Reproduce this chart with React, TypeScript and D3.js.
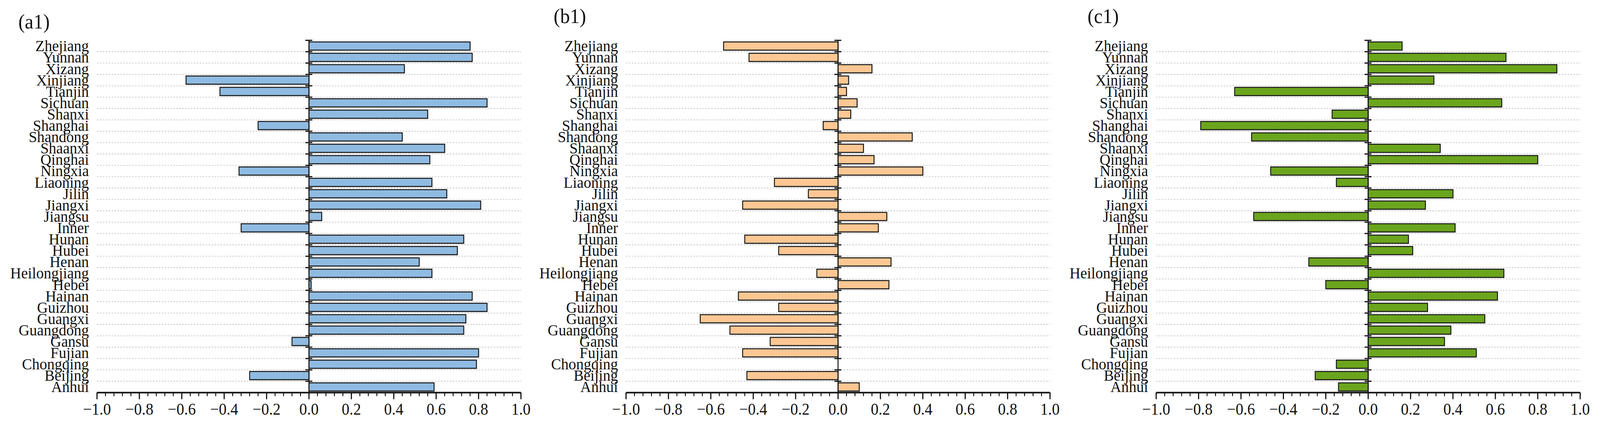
import * as d3 from "d3";

const provinces = [
  "Zhejiang", "Yunnan", "Xizang", "Xinjiang", "Tianjin", "Sichuan", "Shanxi", "Shanghai",
  "Shandong", "Shaanxi", "Qinghai", "Ningxia", "Liaoning", "Jilin", "Jiangxi", "Jiangsu",
  "Inner", "Hunan", "Hubei", "Henan", "Heilongjiang", "Hebei", "Hainan", "Guizhou",
  "Guangxi", "Guangdong", "Gansu", "Fujian", "Chongqing", "Beijing", "Anhui",
];

// (a1) blue panel
const valuesA = [
  0.76, 0.77, 0.45, -0.58, -0.42, 0.84, 0.56, -0.24,
  0.44, 0.64, 0.57, -0.33, 0.58, 0.65, 0.81, 0.06,
  -0.32, 0.73, 0.70, 0.52, 0.58, 0.01, 0.77, 0.84,
  0.74, 0.73, -0.08, 0.80, 0.79, -0.28, 0.59,
];

// (b1) orange panel
const valuesB = [
  -0.54, -0.42, 0.16, 0.05, 0.04, 0.09, 0.06, -0.07,
  0.35, 0.12, 0.17, 0.40, -0.30, -0.14, -0.45, 0.23,
  0.19, -0.44, -0.28, 0.25, -0.10, 0.24, -0.47, -0.28,
  -0.65, -0.51, -0.32, -0.45, 0, -0.43, 0.10,
];

// (c1) green panel
const valuesC = [
  0.16, 0.65, 0.89, 0.31, -0.63, 0.63, -0.17, -0.79,
  -0.55, 0.34, 0.80, -0.46, -0.15, 0.40, 0.27, -0.54,
  0.41, 0.19, 0.21, -0.28, 0.64, -0.20, 0.61, 0.28,
  0.55, 0.39, 0.36, 0.51, -0.15, -0.25, -0.14,
];

const panelTitles = ["(a1)", "(b1)", "(c1)"];
const panelFills = ["#8fbbe2", "#fcc793", "#6ba51d"];
const xTicks = [-1.0, -0.8, -0.6, -0.4, -0.2, 0.0, 0.2, 0.4, 0.6, 0.8, 1.0];

const WIDTH = 4355;
const HEIGHT = 1091;
const TOP = 103.3;
const BOTTOM = 1005.5;
const PLOT_W = 1154;
const FONT = "'Liberation Serif', 'Times New Roman', Times, serif";

const layout = [
  { x0: 264, titleX: 50, titleY: 73 },
  { x0: 1704, titleX: 1507, titleY: 59 },
  { x0: 3147, titleX: 2960, titleY: 59 },
];

const fmt = (v: number) => (v < 0 ? "\u2212" : "") + Math.abs(v).toFixed(1);

function Panel({ values, title, fill, x0, titleX, titleY }: {
  values: number[]; title: string; fill: string; x0: number; titleX: number; titleY: number;
}) {
  const x = d3.scaleLinear().domain([-1, 1]).range([x0, x0 + PLOT_W]);
  const y = d3.scaleBand<string>().domain(provinces).range([TOP, BOTTOM]).paddingInner(0.28).paddingOuter(0.14);
  const step = y.step();
  const boundaries = d3.range(provinces.length + 1).map((i) => TOP + i * step);
  const minorTicks = d3.range(51).map((i) => -1 + i * 0.04);
  const zero = x(0);

  return (
    <g>
      <text x={titleX} y={titleY} fontFamily={FONT} fontSize={53} fill="#111">{title}</text>

      {boundaries.slice(1, -1).map((b, i) => (
        <line key={"g" + i} x1={x0} x2={x0 + PLOT_W} y1={b} y2={b}
          stroke="#b9b9b9" strokeWidth={1.6} strokeDasharray="4 4" />
      ))}

      {provinces.map((p, i) => {
        const v = values[i];
        if (v === 0) return null;
        const bx = Math.min(zero, x(v));
        const bw = Math.abs(x(v) - zero);
        const by = y(p)!;
        return (
          <g key={p}>
            <rect x={bx + 1.5} y={by + 2} width={bw} height={y.bandwidth()} fill="#666" opacity={0.35} />
            <rect x={bx} y={by} width={bw} height={y.bandwidth()} fill={fill} stroke="#1b1b1b" strokeWidth={2.6} />
          </g>
        );
      })}

      <line x1={zero} x2={zero} y1={TOP} y2={BOTTOM} stroke="#111" strokeWidth={2.6} />
      {boundaries.slice(0, -1).map((b, i) => (
        <line key={"t" + i} x1={zero - 10} x2={zero + 9} y1={b} y2={b} stroke="#111" strokeWidth={3} />
      ))}

      <line x1={x0} x2={x0 + PLOT_W} y1={BOTTOM} y2={BOTTOM} stroke="#111" strokeWidth={4} />
      {minorTicks.map((t, i) => (
        <line key={"m" + i} x1={x(t)} x2={x(t)} y1={BOTTOM} y2={BOTTOM + 9} stroke="#111" strokeWidth={2.6} />
      ))}
      {xTicks.map((t) => (
        <g key={"x" + t}>
          <line x1={x(t)} x2={x(t)} y1={BOTTOM} y2={BOTTOM + 17} stroke="#111" strokeWidth={3} />
          <text x={x(t)} y={BOTTOM + 57} textAnchor="middle" fontFamily={FONT} fontSize={42} fill="#111">
            {fmt(t)}
          </text>
        </g>
      ))}

      {provinces.map((p) => (
        <text key={"l" + p} x={x0 - 22} y={y(p)! + y.bandwidth() / 2 + 13.5} textAnchor="end"
          fontFamily={FONT} fontSize={41} fill="#111">
          {p}
        </text>
      ))}
    </g>
  );
}

export default function App() {
  const series = [valuesA, valuesB, valuesC];
  return (
    <svg viewBox={`0 0 ${WIDTH} ${HEIGHT}`} preserveAspectRatio="none"
      style={{ position: "fixed", left: 0, top: 0, width: "100vw", height: "100vh", background: "#fff", display: "block" }}>
      <rect width={WIDTH} height={HEIGHT} fill="#fff" />
      {series.map((vals, i) => (
        <Panel key={i} values={vals} title={panelTitles[i]} fill={panelFills[i]} {...layout[i]} />
      ))}
    </svg>
  );
}
